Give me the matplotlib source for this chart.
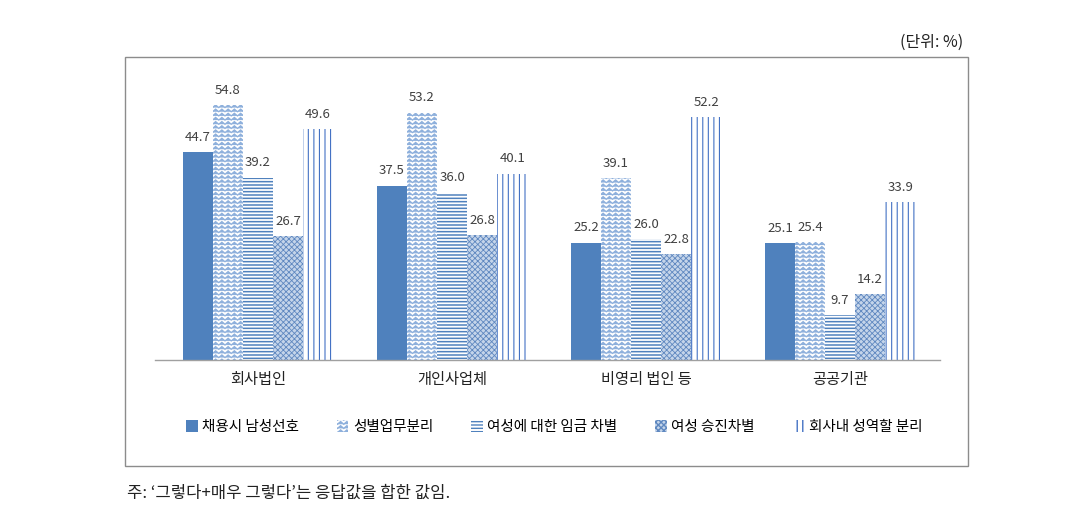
import warnings
import numpy as np
import matplotlib
matplotlib.use('Agg')
import matplotlib.pyplot as plt
import matplotlib.hatch as mhatch
from matplotlib.path import Path
from matplotlib.patches import Rectangle

warnings.filterwarnings('ignore')

plt.rcParams['font.family'] = ['Noto Sans CJK KR', 'DejaVu Sans']

# data
categories = ['회사법인', '개인사업체', '비영리 법인 등', '공공기관']
series = ['채용시 남성선호', '성별업무분리', '여성에 대한 임금 차별', '여성 승진차별', '회사내 성역할 분리']
male_pref = [44.7, 37.5, 25.2, 25.1]
job_split = [54.8, 53.2, 39.1, 25.4]
wage_gap = [39.2, 36.0, 26.0, 9.7]
promo_gap = [26.7, 26.8, 22.8, 14.2]
role_split = [49.6, 40.1, 52.2, 33.9]
values = [male_pref, job_split, wage_gap, promo_gap, role_split]


# zigzag hatch for the second series (not built into matplotlib)
class ZigZagHatch(mhatch.HatchPatternBase):
    def __init__(self, hatch, density):
        self.num_lines = int(hatch.count('z') * density)
        self.peaks = 16
        self.num_vertices = self.num_lines * (2 * self.peaks + 1)

    def set_vertices_and_codes(self, vertices, codes):
        n = 2 * self.peaks + 1
        steps, step = np.linspace(0.0, 1.0, self.num_lines, False, retstep=True)
        steps += step / 2.
        xs = np.linspace(0.0, 1.0, n)
        amp = step * 0.32
        offs = np.where(np.arange(n) % 2 == 0, -amp, amp)
        for i, y in enumerate(steps):
            vertices[i * n:(i + 1) * n, 0] = xs
            vertices[i * n:(i + 1) * n, 1] = y + offs
            codes[i * n] = Path.MOVETO
            codes[i * n + 1:(i + 1) * n] = Path.LINETO


mhatch._hatch_types.append(ZigZagHatch)

styles = [
    dict(face='#4F81BD', edge='#4F81BD', hatch=None, hlw=1.0),
    dict(face='white', edge='#8EB0DC', hatch='zzzz', hlw=0.9),
    dict(face='white', edge='#4F81BD', hatch='-----', hlw=1.1),
    dict(face='#C5D5EA', edge='#5F88C0', hatch='xxxxxx', hlw=0.6),
    dict(face='white', edge='#4472C4', hatch='|||', hlw=0.8),
]

fig = plt.figure(figsize=(10.8, 5.15), dpi=100)
ax = fig.add_axes([155 / 1080, 155 / 515, 785 / 1080, 279 / 515])

x = np.arange(len(categories))
w = 0.155
handles = []
for i, (name, vals, st) in enumerate(zip(series, values, styles)):
    with plt.rc_context({'hatch.linewidth': st['hlw']}):
        bars = ax.bar(x + (i - 2) * w, vals, w, facecolor=st['face'],
                      edgecolor=st['edge'], hatch=st['hatch'], linewidth=0,
                      label=name)
    handles.append(bars)
    for b, v in zip(bars, vals):
        ax.annotate(f'{v:.1f}', (b.get_x() + b.get_width() / 2, v),
                    xytext=(0, 6), textcoords='offset points',
                    ha='center', va='bottom', fontsize=9.5, color='#404040')

ax.set_xlim(-0.531, 3.515)
ax.set_ylim(0, 60)
ax.set_yticks([])
ax.set_xticks(x, labels=categories)
ax.tick_params(axis='x', length=0, pad=8, labelsize=11, colors='#222222')
for s in ['top', 'right', 'left']:
    ax.spines[s].set_visible(False)
ax.spines['bottom'].set_color('#A0A0A0')
ax.spines['bottom'].set_linewidth(1.0)

fig.legend(handles=handles, labels=series, loc='center', ncol=5,
           bbox_to_anchor=(0.513, 1 - 427 / 515), frameon=False,
           fontsize=10.5, handlelength=0.8, handleheight=0.8,
           handletextpad=0.3, columnspacing=2.6)

# outer chart border
fig.patches.append(Rectangle((125 / 1080, 1 - 466 / 515), 843 / 1080, 409 / 515,
                             transform=fig.transFigure, fill=False,
                             edgecolor='#8C8C8C', linewidth=1.0))

fig.text(963 / 1080, 1 - 42 / 515, '(단위: %)', ha='right', va='center',
         fontsize=11.5, color='#222222')
fig.text(127 / 1080, 1 - 493 / 515, '주: ‘그렇다+매우 그렇다’는 응답값을 합한 값임.',
         ha='left', va='center', fontsize=12, color='#222222')

fig.savefig('out.png', dpi=100)
